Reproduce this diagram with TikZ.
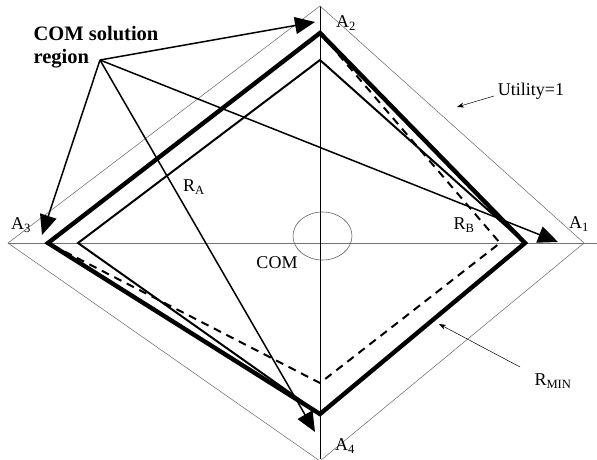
\documentclass[tikz,border=0pt]{standalone}
\usepackage{fontspec}
\setmainfont{Liberation Serif}
\usetikzlibrary{arrows.meta,shapes.geometric}

\begin{document}
\begin{tikzpicture}[
  x=1pt,y=-1pt,
  axis/.style={draw=black!55, line width=0.6pt},
  vaxis/.style={draw=black, line width=0.7pt},
  utility/.style={draw=black!60, line width=0.5pt},
  envelope/.style={draw=black, line width=4.4pt, line join=miter},
  region/.style={draw=black, line width=2pt, line join=miter},
  rmin/.style={draw=black, line width=2pt, dash pattern=on 8pt off 6pt},
  pointer/.style={-{Triangle[length=20pt,width=17pt]}, line width=1.5pt},
  callout/.style={-{Stealth[length=7pt,width=5pt]}, line width=0.5pt},
  lbl/.style={font=\fontsize{18}{21}\selectfont, inner sep=1pt},
  title/.style={font=\fontsize{20.5}{23}\selectfont\bfseries, align=left, inner sep=1pt}
]
  \useasboundingbox (0,0) rectangle (597,459);

  % vertices
  \coordinate (u2) at (320,6);   \coordinate (u1) at (584,243);
  \coordinate (u4) at (320,461); \coordinate (u3) at (8,243);
  \coordinate (e2) at (320,33);  \coordinate (e1) at (525,243);
  \coordinate (e4) at (320,414); \coordinate (e3) at (48,243);
  \coordinate (i2) at (320,60);  \coordinate (i3) at (78,243);
  \coordinate (d1) at (500,243); \coordinate (d4) at (320,383);

  % axes and utility=1 contour
  \draw[axis] (u3) -- (597,243);
  \draw[vaxis] (u2) -- (320,459);
  \draw[utility] (u2) -- (u1) -- (u4) -- (u3) -- cycle;

  % COM
  \node[draw=black!60, line width=0.6pt, ellipse, minimum width=59pt, minimum height=48pt,
        inner sep=0pt] (com) at (322.5,236) {};
  \node[lbl] (comlbl) at (277,263) {COM};

  % regions
  \draw[rmin] (e2) -- (d1) -- (d4) -- (e3);
  \draw[region] (i2) -- (e1) -- (e4) -- (i3) -- cycle;
  \draw[envelope] (e2) -- (e1) -- (e4) -- (e3) -- cycle;

  % labels
  \node[lbl] (a1) at (579,224) {A\textsubscript{1}};
  \node[lbl] (a2) at (346,23) {A\textsubscript{2}};
  \node[lbl] (a3) at (21,225) {A\textsubscript{3}};
  \node[lbl] (a4) at (345,446) {A\textsubscript{4}};
  \node[lbl] (ra) at (194,187) {R\textsubscript{A}};
  \node[lbl] (rb) at (464,225) {R\textsubscript{B}};
  \node[lbl] (util) at (531,91) {Utility=1};
  \node[lbl] (rminlbl) at (553,381) {R\textsubscript{MIN}};
  \node[title] (sol) at (96,47) {COM solution\\region};

  % pointers from the solution region label
  \coordinate (hub) at (100,60);
  \draw[pointer] (hub) -- (315,22);
  \draw[pointer] (hub) -- (42,235);
  \draw[pointer] (hub) -- (558,242);
  \draw[pointer] (hub) -- (315,432);

  % callouts
  \draw[callout] (494,96) -- (457,107);
  \draw[callout] (520,367) -- (439,324);
\end{tikzpicture}
\end{document}
